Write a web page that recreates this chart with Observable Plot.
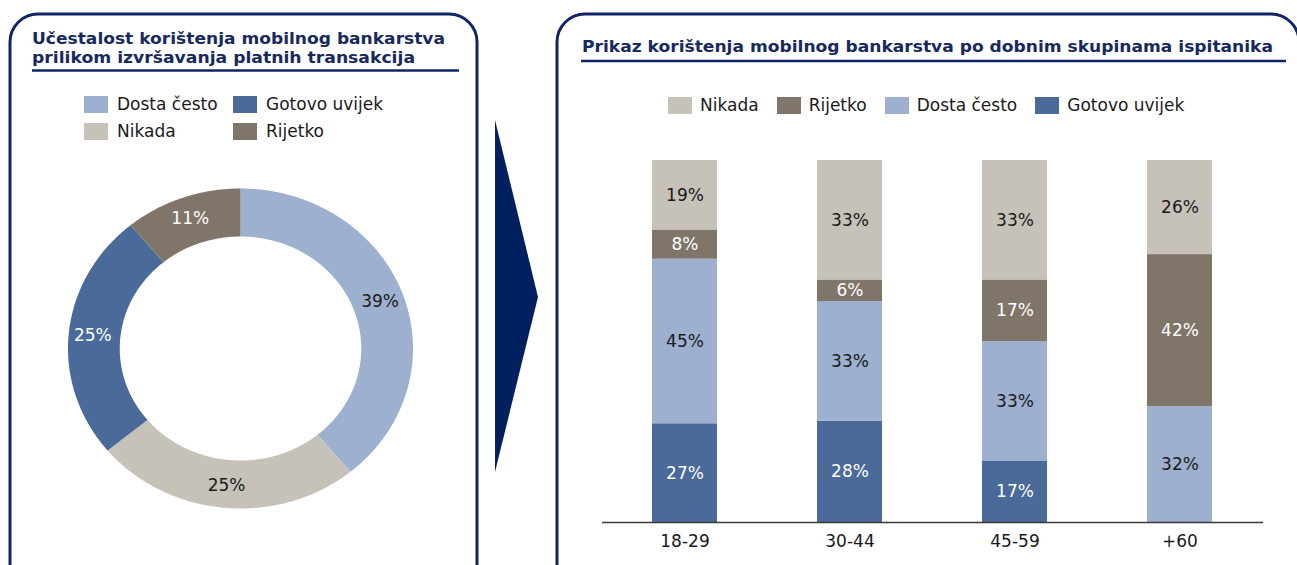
<!DOCTYPE html>
<html>
<head>
<meta charset="utf-8">
<script src="https://cdn.jsdelivr.net/npm/d3@7"></script>
<script src="https://cdn.jsdelivr.net/npm/@observablehq/plot@0.6"></script>
<style>
  html, body { margin: 0; padding: 0; background: #fff; }
  #root { position: relative; width: 1297px; height: 565px; overflow: hidden; font-family: "DejaVu Sans", Verdana, sans-serif; }
  .abs { position: absolute; }
  .leg-item { position: absolute; display: flex; align-items: center; font-size: 17px; color: #1a1a1a; white-space: nowrap; }
  .sw { width: 24px; height: 17px; margin-right: 9px; flex: none; }
  #legR { position: absolute; left: 668px; top: 95px; display: flex; align-items: center; font-size: 17px; color: #1a1a1a; white-space: nowrap; }
  #legR .it { display: flex; align-items: center; margin-right: 18px; }
  #legR .sw { margin-right: 8px; }
</style>
</head>
<body>
<div id="root">
  <svg class="abs" id="deco" width="1297" height="565" style="left:0;top:0"></svg>
  <div class="abs" id="donut" style="left:40px;top:168px"></div>
  <div id="legL"></div>
  <div id="legR"></div>
  <div class="abs" id="bars" style="left:602px;top:160px"></div>
</div>
<script>
// ---------- data ----------
const titleLeft1 = "Učestalost korištenja mobilnog bankarstva";
const titleLeft2 = "prilikom izvršavanja platnih transakcija";
const titleRight = "Prikaz korištenja mobilnog bankarstva po dobnim skupinama ispitanika";

const catNames  = ["Dosta često", "Gotovo uvijek", "Nikada", "Rijetko"];
const catColors = ["#9DB0CF", "#4A6A9A", "#C6C2BA", "#807569"];
const whiteLabelCats = ["Gotovo uvijek", "Rijetko"];

// donut (clockwise from 12 o'clock)
const donutCats   = ["Dosta često", "Nikada", "Gotovo uvijek", "Rijetko"];
const donutValues = [39, 25, 25, 11];

// stacked bars
const ageGroups = ["18-29", "30-44", "45-59", "+60"];
const stackCats = ["Gotovo uvijek", "Dosta često", "Rijetko", "Nikada"]; // bottom -> top
const gotovoUvijek = [27, 28, 17, 0];
const dostaCesto   = [45, 33, 33, 32];
const rijetko      = [8, 6, 17, 42];
const nikada       = [19, 33, 33, 26];
const legendRight  = ["Nikada", "Rijetko", "Dosta često", "Gotovo uvijek"];

const navy = "#0E2566";
const titleColor = "#17295E";
const colorOf = c => catColors[catNames.indexOf(c)];

// ---------- decoration (panels, arrow, titles) ----------
const deco = d3.select("#deco");
deco.append("rect").attr("x", 10).attr("y", 14).attr("width", 467).attr("height", 580)
  .attr("rx", 28).attr("fill", "none").attr("stroke", navy).attr("stroke-width", 3);
deco.append("rect").attr("x", 557).attr("y", 14).attr("width", 742).attr("height", 580)
  .attr("rx", 28).attr("fill", "none").attr("stroke", navy).attr("stroke-width", 3);
deco.append("path").attr("d", "M495,120 L538,297 L495,472 Z").attr("fill", "#002060");

function title(x, y, txt, len, size) {
  deco.append("text").attr("x", x).attr("y", y).text(txt)
    .attr("font-family", "DejaVu Sans, Verdana, sans-serif").attr("font-weight", "bold")
    .attr("font-size", size).attr("fill", titleColor)
    .attr("textLength", len).attr("lengthAdjust", "spacingAndGlyphs");
}
title(32, 44, titleLeft1, 413, 16);
title(32, 62.5, titleLeft2, 383, 16);
title(582, 52, titleRight, 691, 16);
deco.append("line").attr("x1", 32).attr("x2", 459).attr("y1", 70.5).attr("y2", 70.5)
  .attr("stroke", navy).attr("stroke-width", 2.5);
deco.append("line").attr("x1", 581).attr("x2", 1286).attr("y1", 61).attr("y2", 61)
  .attr("stroke", navy).attr("stroke-width", 2.5);

// ---------- left legend ----------
const legL = d3.select("#legL");
catNames.forEach((c, i) => {
  const col = i % 2, row = Math.floor(i / 2);
  const it = legL.append("div").attr("class", "leg-item")
    .style("left", (84 + col * 149) + "px").style("top", (94 + row * 27) + "px");
  it.append("div").attr("class", "sw").style("background", colorOf(c));
  it.append("span").text(c);
});
// ---------- right legend ----------
const legR = d3.select("#legR");
legendRight.forEach(c => {
  const it = legR.append("div").attr("class", "it");
  it.append("div").attr("class", "sw").style("background", colorOf(c));
  it.append("span").text(c);
});

// ---------- donut ----------
const arcs = d3.pie().sort(null)(donutValues);
const rOuter = 1, rInner = 0.70, rLabel = 0.86;
const ring = [];
arcs.forEach((a, i) => {
  const cat = donutCats[i];
  const n = Math.max(2, Math.ceil((a.endAngle - a.startAngle) / 0.01));
  for (let k = 0; k <= n; k++) {
    const t = a.startAngle + (a.endAngle - a.startAngle) * k / n;
    ring.push({cat, x: rOuter * Math.sin(t), y: rOuter * Math.cos(t)});
  }
  for (let k = n; k >= 0; k--) {
    const t = a.startAngle + (a.endAngle - a.startAngle) * k / n;
    ring.push({cat, x: rInner * Math.sin(t), y: rInner * Math.cos(t)});
  }
});
const donutLabels = arcs.map((a, i) => {
  const m = (a.startAngle + a.endAngle) / 2;
  return {cat: donutCats[i], value: donutValues[i], x: rLabel * Math.sin(m), y: rLabel * Math.cos(m)};
});

const donut = Plot.plot({
  width: 400, height: 360, margin: 0,
  x: {domain: [-1.1594, 1.1594], axis: null},
  y: {domain: [-1.125, 1.125], axis: null},
  color: {domain: catNames, range: catColors},
  style: {fontFamily: "DejaVu Sans, Verdana, sans-serif", background: "transparent", overflow: "visible"},
  marks: [
    Plot.line(ring, {x: "x", y: "y", z: "cat", fill: "cat", stroke: "none", curve: "linear"}),
    Plot.text(donutLabels, {x: "x", y: "y", text: d => whiteLabelCats.includes(d.cat) ? d.value + "%" : null,
      fill: "white", fontSize: 17}),
    Plot.text(donutLabels, {x: "x", y: "y", text: d => whiteLabelCats.includes(d.cat) ? null : d.value + "%",
      fill: "#1a1a1a", fontSize: 17})
  ]
});
document.getElementById("donut").appendChild(donut);

// ---------- stacked bars ----------
const seriesByCat = {"Gotovo uvijek": gotovoUvijek, "Dosta često": dostaCesto, "Rijetko": rijetko, "Nikada": nikada};
const barData = [];
ageGroups.forEach((g, gi) => {
  stackCats.forEach(c => barData.push({group: g, cat: c, value: seriesByCat[c][gi]}));
});

const bars = Plot.plot({
  width: 661, height: 402,
  marginTop: 0, marginLeft: 0, marginRight: 0, marginBottom: 40,
  x: {domain: ageGroups, paddingInner: 0.606, paddingOuter: 0.303, label: null, tickSize: 0, tickPadding: 12},
  y: {domain: [0, 1], axis: null},
  color: {domain: catNames, range: catColors},
  style: {fontFamily: "DejaVu Sans, Verdana, sans-serif", fontSize: "17px", color: "#1a1a1a",
          background: "transparent", overflow: "visible"},
  marks: [
    Plot.barY(barData, Plot.stackY({x: "group", y: "value", z: "cat", fill: "cat", offset: "normalize"})),
    Plot.text(barData, Plot.stackY({x: "group", y: "value", z: "cat", offset: "normalize",
      text: d => (d.value > 0 && whiteLabelCats.includes(d.cat)) ? d.value + "%" : null,
      fill: "white", fontSize: 17})),
    Plot.text(barData, Plot.stackY({x: "group", y: "value", z: "cat", offset: "normalize",
      text: d => (d.value > 0 && !whiteLabelCats.includes(d.cat)) ? d.value + "%" : null,
      fill: "#1a1a1a", fontSize: 17})),
    Plot.ruleY([0], {stroke: "#3a3a3a", strokeWidth: 1.5})
  ]
});
document.getElementById("bars").appendChild(bars);
</script>
</body>
</html>
